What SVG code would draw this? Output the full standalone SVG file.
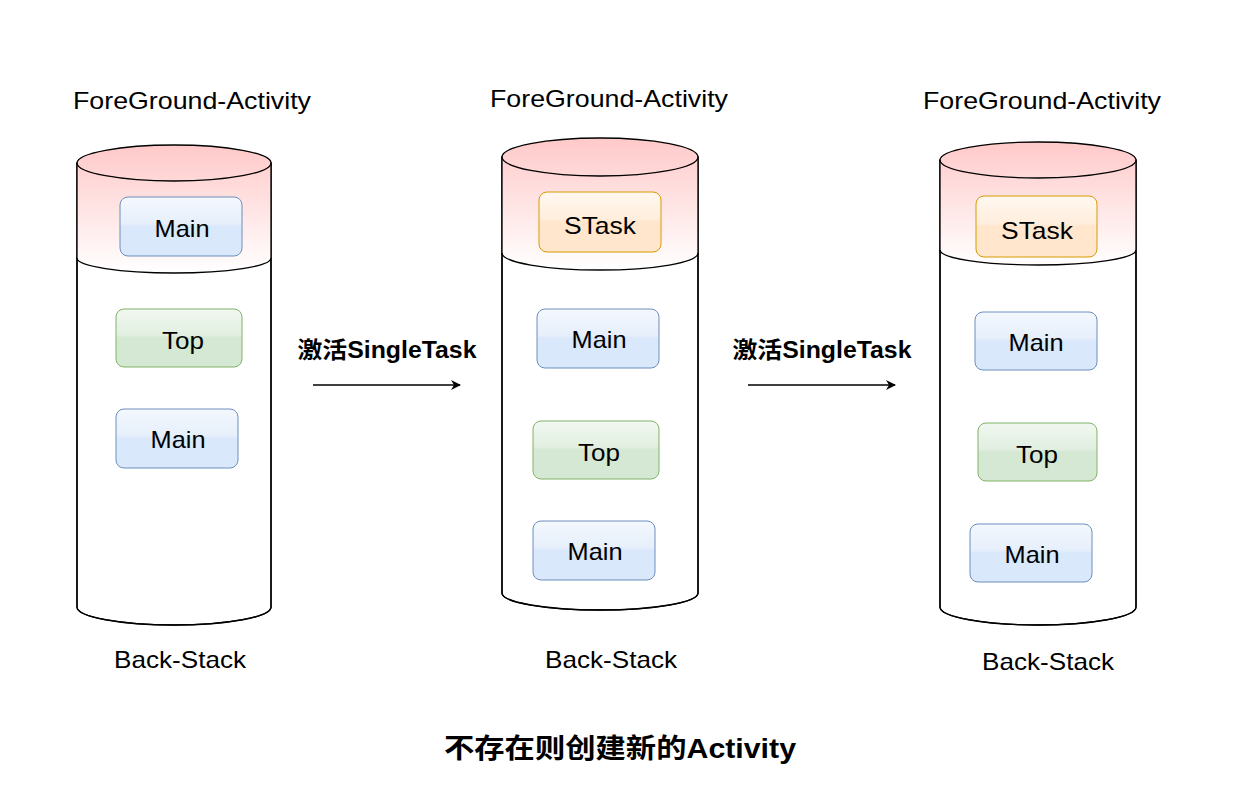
<svg xmlns="http://www.w3.org/2000/svg" width="1241" height="796" viewBox="0 0 1241 796">
<defs>
<linearGradient id="pink" x1="0" y1="0" x2="0" y2="1">
<stop offset="0" stop-color="#ffc9c9"/>
<stop offset="1" stop-color="#ffffff"/>
</linearGradient>
<linearGradient id="gBlue" x1="0" y1="0" x2="0" y2="1">
<stop offset="0" stop-color="#f4f8fe"/>
<stop offset="0.45" stop-color="#e6effb"/>
<stop offset="0.5" stop-color="#dae8fc"/>
<stop offset="1" stop-color="#dae8fc"/>
</linearGradient>
<linearGradient id="gGreen" x1="0" y1="0" x2="0" y2="1">
<stop offset="0" stop-color="#f1f7f1"/>
<stop offset="0.45" stop-color="#e1efe0"/>
<stop offset="0.5" stop-color="#d5e8d4"/>
<stop offset="1" stop-color="#d5e8d4"/>
</linearGradient>
<linearGradient id="gOrange" x1="0" y1="0" x2="0" y2="1">
<stop offset="0" stop-color="#fff8f0"/>
<stop offset="0.45" stop-color="#ffeedd"/>
<stop offset="0.5" stop-color="#ffe6cc"/>
<stop offset="1" stop-color="#ffe6cc"/>
</linearGradient>
<marker id="arr" viewBox="0 0 10 10" refX="9" refY="5" markerWidth="10" markerHeight="10" markerUnits="userSpaceOnUse" orient="auto">
<path d="M0,0 L10,5 L0,10 L3,5 Z" fill="#000"/>
</marker>
</defs>
<style>
.cyl{fill:#fff;stroke:#000;stroke-width:1.4}
.band{fill:url(#pink);stroke:none}
.ln{fill:none;stroke:#000;stroke-width:1.3}
.blue{fill:url(#gBlue);stroke:#6c8ebf;stroke-width:1}
.green{fill:url(#gGreen);stroke:#82b366;stroke-width:1}
.orange{fill:url(#gOrange);stroke:#d79b00;stroke-width:1}
.t{font-family:"Liberation Sans","Noto Sans CJK SC",sans-serif;font-size:24px;fill:#000;text-anchor:middle}
.lbl{font-family:"Liberation Sans","Noto Sans CJK SC",sans-serif;font-size:24px;fill:#000;text-anchor:middle}
.bold{font-family:"Liberation Sans","Noto Sans CJK SC",sans-serif;font-weight:bold;fill:#000;text-anchor:middle}
</style>

<g id="stack1">
<path class="cyl" d="M77,163 L77,607 A97,18 0 0 0 271,607 L271,163 Z"/>
<path class="band" d="M77,163 L77,258 A97,15 0 0 0 271,258 L271,163 A97,18 0 0 0 77,163 Z"/>
<ellipse class="ln" cx="174" cy="163" rx="97" ry="18"/>
<path class="ln" d="M77,258 A97,15 0 0 0 271,258"/>
<path class="ln" d="M77,163 L77,607 A97,18 0 0 0 271,607 L271,163"/>
<text class="lbl" x="192" y="109" textLength="238" lengthAdjust="spacingAndGlyphs">ForeGround-Activity</text>
<text class="lbl" x="180" y="668" textLength="132" lengthAdjust="spacingAndGlyphs">Back-Stack</text>
</g>
<g id="s1-main-top"><rect class="blue" x="120" y="197" width="122" height="59" rx="8"/><text class="t" x="182" y="237" textLength="55" lengthAdjust="spacingAndGlyphs">Main</text></g>
<g id="s1-top"><rect class="green" x="116" y="309" width="126" height="58" rx="8"/><text class="t" x="183" y="349" textLength="42" lengthAdjust="spacingAndGlyphs">Top</text></g>
<g id="s1-main"><rect class="blue" x="116" y="409" width="122" height="59" rx="8"/><text class="t" x="178" y="448" textLength="55" lengthAdjust="spacingAndGlyphs">Main</text></g>

<g id="stack2">
<path class="cyl" d="M502,157 L502,593 A98,17 0 0 0 698,593 L698,157 Z"/>
<path class="band" d="M502,157 L502,253 A98,17 0 0 0 698,253 L698,157 A98,19 0 0 0 502,157 Z"/>
<ellipse class="ln" cx="600" cy="157" rx="98" ry="19"/>
<path class="ln" d="M502,253 A98,17 0 0 0 698,253"/>
<path class="ln" d="M502,157 L502,593 A98,17 0 0 0 698,593 L698,157"/>
<text class="lbl" x="609" y="107" textLength="238" lengthAdjust="spacingAndGlyphs">ForeGround-Activity</text>
<text class="lbl" x="611" y="668" textLength="132" lengthAdjust="spacingAndGlyphs">Back-Stack</text>
</g>
<g id="s2-stask"><rect class="orange" x="539" y="192" width="122" height="60" rx="8"/><text class="t" x="600" y="234" textLength="72" lengthAdjust="spacingAndGlyphs">STask</text></g>
<g id="s2-main-top"><rect class="blue" x="537" y="309" width="122" height="59" rx="8"/><text class="t" x="599" y="348" textLength="55" lengthAdjust="spacingAndGlyphs">Main</text></g>
<g id="s2-top"><rect class="green" x="533" y="421" width="126" height="58" rx="8"/><text class="t" x="599" y="461" textLength="42" lengthAdjust="spacingAndGlyphs">Top</text></g>
<g id="s2-main"><rect class="blue" x="533" y="521" width="122" height="59" rx="8"/><text class="t" x="595" y="560" textLength="55" lengthAdjust="spacingAndGlyphs">Main</text></g>

<g id="stack3">
<path class="cyl" d="M940,160 L940,607 A98,18 0 0 0 1136,607 L1136,160 Z"/>
<path class="band" d="M940,160 L940,250 A98,15 0 0 0 1136,250 L1136,160 A98,18 0 0 0 940,160 Z"/>
<ellipse class="ln" cx="1038" cy="160" rx="98" ry="18"/>
<path class="ln" d="M940,250 A98,15 0 0 0 1136,250"/>
<path class="ln" d="M940,160 L940,607 A98,18 0 0 0 1136,607 L1136,160"/>
<text class="lbl" x="1042" y="109" textLength="238" lengthAdjust="spacingAndGlyphs">ForeGround-Activity</text>
<text class="lbl" x="1048" y="670" textLength="132" lengthAdjust="spacingAndGlyphs">Back-Stack</text>
</g>
<g id="s3-stask"><rect class="orange" x="976" y="196" width="121" height="61" rx="8"/><text class="t" x="1037" y="239" textLength="72" lengthAdjust="spacingAndGlyphs">STask</text></g>
<g id="s3-main-top"><rect class="blue" x="975" y="312" width="122" height="58" rx="8"/><text class="t" x="1036" y="351" textLength="55" lengthAdjust="spacingAndGlyphs">Main</text></g>
<g id="s3-top"><rect class="green" x="978" y="423" width="119" height="58" rx="8"/><text class="t" x="1037" y="463" textLength="42" lengthAdjust="spacingAndGlyphs">Top</text></g>
<g id="s3-main"><rect class="blue" x="970" y="524" width="122" height="58" rx="8"/><text class="t" x="1032" y="563" textLength="55" lengthAdjust="spacingAndGlyphs">Main</text></g>

<g id="connectors">
<line class="ln" x1="313" y1="385" x2="460" y2="385" marker-end="url(#arr)"/>
<line class="ln" x1="748" y1="385" x2="895" y2="385" marker-end="url(#arr)"/>
</g>
<g id="labels">
<text class="bold" x="387" y="358" font-size="23" textLength="179" lengthAdjust="spacingAndGlyphs">激活SingleTask</text>
<text class="bold" x="822" y="358" font-size="23" textLength="179" lengthAdjust="spacingAndGlyphs">激活SingleTask</text>
<text class="bold" x="620" y="758" font-size="27" textLength="352" lengthAdjust="spacingAndGlyphs">不存在则创建新的Activity</text>
</g>
</svg>
